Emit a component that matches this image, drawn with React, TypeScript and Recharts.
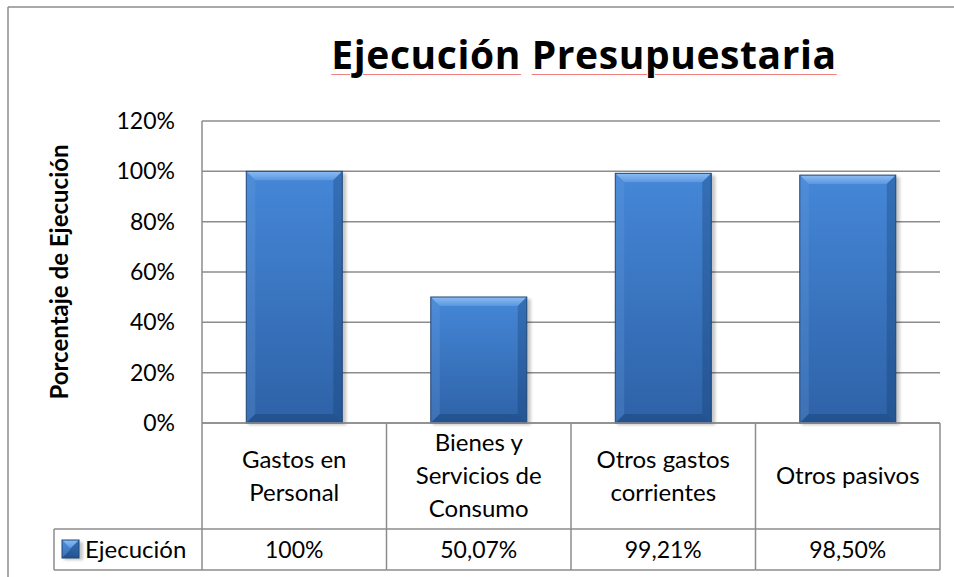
import React from 'react';
import { BarChart, Bar, XAxis, YAxis, CartesianGrid, Label } from 'recharts';

// chart data
const CATEGORIES = ['Gastos en\nPersonal', 'Bienes y\nServicios de\nConsumo', 'Otros gastos\ncorrientes', 'Otros pasivos'];
const EJECUCION = [1.0, 0.5007, 0.9921, 0.985];
const TABLE_LABELS = ['100%', '50,07%', '99,21%', '98,50%'];
const Y_TICKS = [0, 0.2, 0.4, 0.6, 0.8, 1.0, 1.2];
const SERIES_NAME = 'Ejecución';
const TITLE_WORDS = ['Ejecución', 'Presupuestaria'];
const Y_TITLE = 'Porcentaje de Ejecución';

const data = CATEGORIES.map((name, i) => ({ name, value: EJECUCION[i] }));

// layout
const W = 954;
const H = 577;
const PLOT_LEFT = 202;
const PLOT_RIGHT = 940;
const PLOT_TOP = 121;
const PLOT_BOTTOM = 423;
const CELL_W = (PLOT_RIGHT - PLOT_LEFT) / CATEGORIES.length;
const CAT_ROW = 106;
const VAL_ROW = 41;
const LEGEND_LEFT = 54;
const FONT = 'Lato, "Open Sans", sans-serif';
const TXT = 24;
const NUM = 23;
const GRID = '#8c8c8c';

const BevelBar = (props: any) => {
  const { x, y, width: w, height: h } = props;
  if (!h || h <= 0) return null;
  const b = Math.min(9, h / 2, w / 2);
  return (
    <g>
      <rect x={x + 2} y={y + 2} width={w + 2} height={h} fill="#000" opacity={0.22} filter="url(#barShadow)" />
      <rect x={x} y={y} width={w} height={h} fill="url(#barFace)" />
      <polygon points={`${x},${y} ${x + w},${y} ${x + w - b},${y + b} ${x + b},${y + b}`} fill="url(#barTop)" />
      <polygon points={`${x},${y} ${x + b},${y + b} ${x + b},${y + h - b} ${x},${y + h}`} fill="#6a9fe0" opacity={0.25} />
      <polygon points={`${x + w},${y} ${x + w - b},${y + b} ${x + w - b},${y + h - b} ${x + w},${y + h}`} fill="#123766" opacity={0.3} />
      <polygon points={`${x},${y + h} ${x + b},${y + h - b} ${x + w - b},${y + h - b} ${x + w},${y + h}`} fill="#123766" opacity={0.35} />
      <rect x={x} y={y} width={w} height={h} fill="none" stroke="#1f4678" strokeWidth={1} />
    </g>
  );
};

const TableTick = (props: any) => {
  const { x, y, payload } = props;
  const i = payload.index;
  const lines = String(payload.value).split('\n');
  const left = x - CELL_W / 2;
  const right = x + CELL_W / 2;
  const rowY = y + CAT_ROW;
  const bottom = rowY + VAL_ROW;
  const lh = 33;
  const startY = y + CAT_ROW / 2 - ((lines.length - 1) * lh) / 2;
  const line = { stroke: GRID, strokeWidth: 1.5 };
  return (
    <g>
      <line x1={right} y1={y} x2={right} y2={bottom} {...line} />
      {i === 0 && (
        <g>
          <line x1={left} y1={y} x2={left} y2={bottom} {...line} />
          <line x1={LEGEND_LEFT} y1={rowY} x2={left} y2={rowY} {...line} />
          <line x1={LEGEND_LEFT} y1={bottom} x2={left} y2={bottom} {...line} />
          <line x1={LEGEND_LEFT} y1={rowY} x2={LEGEND_LEFT} y2={bottom} {...line} />
          <BevelBar x={62} y={rowY + 11} width={17} height={18} />
          <text x={85} y={rowY + VAL_ROW / 2} dy="0.35em" fontSize={TXT} fontFamily={FONT} fill="#000">
            {SERIES_NAME}
          </text>
        </g>
      )}
      <line x1={left} y1={rowY} x2={right} y2={rowY} {...line} />
      <line x1={left} y1={bottom} x2={right} y2={bottom} {...line} />
      <text textAnchor="middle" fontSize={TXT} fontFamily={FONT} fill="#000">
        {lines.map((l, k) => (
          <tspan key={k} x={x} y={startY + k * lh} dy="0.35em">
            {l}
          </tspan>
        ))}
      </text>
      <text x={x} y={rowY + VAL_ROW / 2} dy="0.35em" textAnchor="middle" fontSize={NUM} fontFamily={FONT} fill="#000">
        {TABLE_LABELS[i]}
      </text>
    </g>
  );
};

const AxisTitle = (props: any) => {
  const vb = props.viewBox || {};
  const cx = 60;
  const cy = vb.height ? vb.y + vb.height / 2 : (PLOT_TOP + PLOT_BOTTOM) / 2;
  return (
    <text x={cx} y={cy} dy="0.35em" transform={`rotate(-90, ${cx}, ${cy})`} textAnchor="middle" fontSize={24} fontWeight="bold" fontFamily={FONT} fill="#000">
      {Y_TITLE}
    </text>
  );
};

export default function App() {
  const titleSize = 39;
  return (
    <div style={{ position: 'absolute', left: 0, top: 0, width: W, height: H, background: '#fff', overflow: 'hidden' }}>
      <svg width={W} height={H} style={{ position: 'absolute', left: 0, top: 0 }}>
        <line x1={8} y1={7} x2={W} y2={7} stroke={GRID} strokeWidth={1.5} />
        <line x1={8} y1={7} x2={8} y2={H} stroke={GRID} strokeWidth={1.5} />
      </svg>
      <div
        style={{
          position: 'absolute',
          left: 584,
          top: 69 - 0.888 * titleSize,
          transform: 'translateX(-50%)',
          whiteSpace: 'nowrap',
          fontFamily: '"Open Sans", sans-serif',
          fontWeight: 700,
          fontSize: titleSize,
          lineHeight: `${titleSize}px`,
          letterSpacing: 0.6,
          color: '#000',
        }}
      >
        {TITLE_WORDS.map((w, k) => (
          <React.Fragment key={k}>
            {k > 0 && ' '}
            <span style={{ textDecoration: 'underline', textDecorationColor: '#f08080', textDecorationThickness: 1, textUnderlineOffset: 5 }}>{w}</span>
          </React.Fragment>
        ))}
      </div>
      <div style={{ position: 'absolute', left: 0, top: 0 }}>
        <BarChart width={W} height={H} data={data} margin={{ top: PLOT_TOP, right: W - PLOT_RIGHT, bottom: 0, left: 0 }} barCategoryGap="24%">
          <defs>
            <linearGradient id="barFace" x1="0" y1="0" x2="0" y2="1">
              <stop offset="0%" stopColor="#4587d8" />
              <stop offset="100%" stopColor="#2e62a7" />
            </linearGradient>
            <linearGradient id="barTop" x1="0" y1="0" x2="0" y2="1">
              <stop offset="0%" stopColor="#8cbdf3" />
              <stop offset="100%" stopColor="#5a96e0" />
            </linearGradient>
            <filter id="barShadow" x="-20%" y="-20%" width="140%" height="140%">
              <feGaussianBlur stdDeviation="1.5" />
            </filter>
          </defs>
          <CartesianGrid vertical={false} stroke={GRID} strokeWidth={1.5} />
          <XAxis
            dataKey="name"
            height={H - PLOT_BOTTOM}
            tickLine={false}
            tickSize={0}
            tickMargin={0}
            axisLine={{ stroke: GRID, strokeWidth: 1.5 }}
            tick={<TableTick />}
            interval={0}
          />
          <YAxis
            width={PLOT_LEFT}
            domain={[0, 1.2]}
            ticks={Y_TICKS}
            tickFormatter={(v: number) => `${Math.round(v * 100)}%`}
            tickLine={false}
            tickSize={0}
            tickMargin={27}
            axisLine={{ stroke: GRID, strokeWidth: 1.5 }}
            tick={{ fill: '#000', fontSize: NUM, fontFamily: FONT }}
          >
            <Label content={<AxisTitle />} />
          </YAxis>
          <Bar dataKey="value" name={SERIES_NAME} shape={<BevelBar />} isAnimationActive={false} />
        </BarChart>
      </div>
    </div>
  );
}
